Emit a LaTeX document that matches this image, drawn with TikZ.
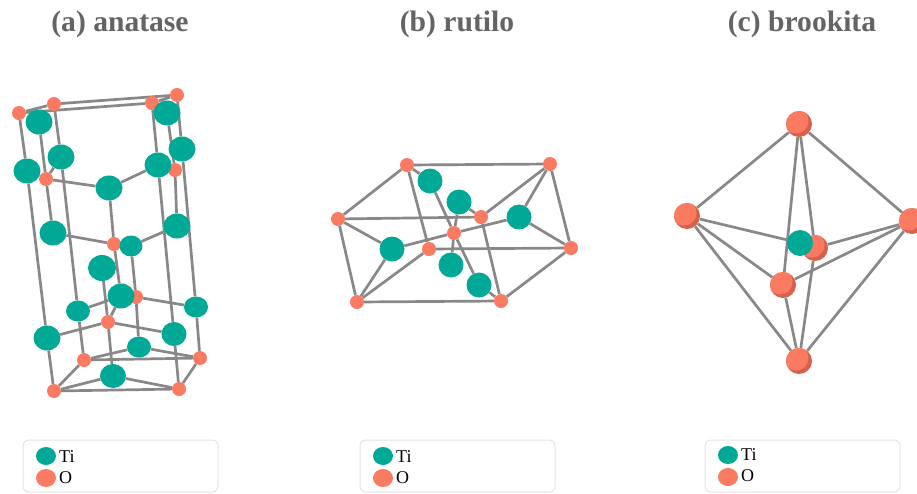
\documentclass[tikz,border=0pt]{standalone}
\usepackage{fontspec}
\setmainfont{Liberation Serif}
\usetikzlibrary{shapes.geometric,backgrounds}
\definecolor{titanio}{RGB}{0,168,150}
\definecolor{oxigeno}{RGB}{250,122,98}
\definecolor{oxigenodark}{RGB}{214,98,78}
\definecolor{enlace}{RGB}{136,136,136}
\definecolor{titulo}{RGB}{100,100,100}
\definecolor{marco}{RGB}{228,228,228}
\tikzset{
    ti/.style={ellipse,fill=titanio,inner sep=0pt,minimum width=27pt,minimum height=25pt},
    tir/.style={circle,fill=titanio,inner sep=0pt,minimum size=25pt},
    ox/.style={circle,fill=oxigeno,inner sep=0pt,minimum size=14pt},
    oxbig/.style={circle,fill=oxigenodark,inner sep=0pt,minimum size=26pt,
        path picture={\fill[oxigeno] ([shift={(-3pt,3pt)}]path picture bounding box.center) circle (12.5pt);}},
    bond/.style={draw=enlace,line width=2.7pt},
    titulo/.style={font=\bfseries\fontsize{29.6}{30}\selectfont,text=titulo},
    leyenda/.style={draw=marco,line width=1pt,rounded corners=6pt,minimum width=195pt,minimum height=52pt,inner sep=0pt},
    legti/.style={ellipse,fill=titanio,inner sep=0pt,minimum width=20pt,minimum height=18pt},
    legox/.style={ellipse,fill=oxigeno,inner sep=0pt,minimum width=20pt,minimum height=18pt},
    legtxt/.style={font=\fontsize{18}{18}\selectfont,anchor=west,inner sep=0pt}
}
\begin{document}
\begin{tikzpicture}[x=1pt,y=-1pt]
        \useasboundingbox (0,0) rectangle (917,493);
        \node[titulo] (ta) at (120,24) {(a) anatase};
        \node[titulo] (tb) at (457,24) {(b) rutilo};
        \node[titulo] (tc) at (802,24) {(c) brookita};

        \node[ox] (a1) at (19,113) {};
        \node[ox] (a2) at (54,104) {};
        \node[ox] (a3) at (152,103) {};
        \node[ox] (a4) at (177,95) {};
        \node[ox] (a5) at (46,179) {};
        \node[ox] (a6) at (175,170) {};
        \node[ox] (a7) at (114,244) {};
        \node[ox] (a8) at (136,297) {};
        \node[ox] (a9) at (108,322) {};
        \node[ox] (a10) at (84,360) {};
        \node[ox] (a11) at (200,358) {};
        \node[ox] (a12) at (54,391) {};
        \node[ox] (a13) at (179,389) {};
        \node[ti] (at1) at (39,122) {};
        \node[ti] (at2) at (167,113) {};
        \node[ti] (at3) at (182,149) {};
        \node[ti] (at4) at (61,157) {};
        \node[ti] (at5) at (27,171) {};
        \node[ti] (at6) at (158,165) {};
        \node[ti] (at7) at (109,188) {};
        \node[ti] (at8) at (53,233) {};
        \node[ti] (at9) at (177,226) {};
        \node[ti,minimum width=23pt,minimum height=21pt] (at10) at (131,246) {};
        \node[ti,minimum width=28pt,minimum height=26pt] (at11) at (102,268) {};
        \node[ti] (at12) at (121,296) {};
        \node[ti,minimum width=24pt,minimum height=21pt] (at13) at (78,311) {};
        \node[ti,minimum width=24pt,minimum height=21pt] (at14) at (196,307) {};
        \node[ti] (at15) at (47,338) {};
        \node[ti,minimum width=25pt,minimum height=24pt] (at16) at (174,334) {};
        \node[ti,minimum width=24pt,minimum height=21pt] (at17) at (139,347) {};
        \node[ti,minimum width=26pt,minimum height=24pt] (at18) at (113,376) {};

        \begin{scope}[on background layer]
        \draw[bond] (a1) -- (a2);
        \draw[bond] (a2) -- (a4);
        \draw[bond] (a1) -- (a3);
        \draw[bond] (a3) -- (a4);
        \draw[bond] (a1) -- (at5);
        \draw[bond] (at5) -- (at15);
        \draw[bond] (at15) -- (a12);
        \draw[bond] (a2) -- (at4);
        \draw[bond] (at4) -- (at13);
        \draw[bond] (at13) -- (a10);
        \draw[bond] (at1) -- (a5);
        \draw[bond] (a5) -- (at8);
        \draw[bond] (a5) -- (at4);
        \draw[bond] (a5) -- (at7);
        \draw[bond] (at7) -- (at6);
        \draw[bond] (at7) -- (a7);
        \draw[bond] (at8) -- (a7);
        \draw[bond] (a7) -- (at12);
        \draw[bond] (a7) -- (at10);
        \draw[bond] (at10) -- (at9);
        \draw[bond] (at10) -- (a8);
        \draw[bond] (a8) -- (at17);
        \draw[bond] (a8) -- (at14);
        \draw[bond] (at11) -- (a9);
        \draw[bond] (a9) -- (at18);
        \draw[bond] (a3) -- (at6);
        \draw[bond] (at6) -- (at16);
        \draw[bond] (at16) -- (a13);
        \draw[bond] (a4) -- (at3);
        \draw[bond] (at3) -- (at14);
        \draw[bond] (at14) -- (a11);
        \draw[bond] (at2) -- (a6);
        \draw[bond] (a6) -- (at9);
        \draw[bond] (at12) -- (at13);
        \draw[bond] (at12) -- (a9);
        \draw[bond] (a9) -- (at15);
        \draw[bond] (a9) -- (at16);
        \draw[bond] (a12) -- (a10);
        \draw[bond] (a12) -- (at18);
        \draw[bond] (at18) -- (a13);
        \draw[bond] (a12) -- (a13);
        \draw[bond] (a10) -- (a11);
        \draw[bond] (a10) -- (at17);
        \draw[bond] (at17) -- (a11);
        \draw[bond] (a13) -- (a11);
        \end{scope}

        \node[ox] (r1) at (407,165) {};
        \node[ox] (r2) at (550,164) {};
        \node[ox] (r3) at (338,219) {};
        \node[ox] (r4) at (481,217) {};
        \node[ox] (r5) at (454,233) {};
        \node[ox] (r6) at (429,249) {};
        \node[ox] (r7) at (571,248) {};
        \node[ox] (r8) at (357,302) {};
        \node[ox] (r9) at (501,301) {};
        \node[tir] (rt1) at (430,181) {};
        \node[tir] (rt2) at (459,202) {};
        \node[tir] (rt3) at (519,217) {};
        \node[tir] (rt4) at (392,249) {};
        \node[tir] (rt5) at (451,265) {};
        \node[tir] (rt6) at (479,285) {};

        \begin{scope}[on background layer]
        \draw[bond] (r1) -- (r2);
        \draw[bond] (r1) -- (r3);
        \draw[bond] (r1) -- (r6);
        \draw[bond] (r1) -- (rt1);
        \draw[bond] (rt1) -- (r5);
        \draw[bond] (r5) -- (rt6);
        \draw[bond] (rt6) -- (r9);
        \draw[bond] (r2) -- (r4);
        \draw[bond] (r2) -- (rt3);
        \draw[bond] (r2) -- (r7);
        \draw[bond] (r3) -- (r4);
        \draw[bond] (r3) -- (rt4);
        \draw[bond] (r3) -- (r8);
        \draw[bond] (rt4) -- (r5);
        \draw[bond] (r5) -- (rt3);
        \draw[bond] (rt2) -- (r4);
        \draw[bond] (rt2) -- (r5);
        \draw[bond] (r5) -- (rt5);
        \draw[bond] (r4) -- (r9);
        \draw[bond] (r6) -- (r7);
        \draw[bond] (r6) -- (r8);
        \draw[bond] (rt4) -- (r8);
        \draw[bond] (rt3) -- (r7);
        \draw[bond] (r7) -- (r9);
        \draw[bond] (r8) -- (r9);
        \end{scope}

        \node[oxbig] (b1) at (799,124) {};
        \node[oxbig] (b2) at (687,216) {};
        \node[oxbig] (b3) at (912,221) {};
        \node[oxbig] (b4) at (815,248) {};
        \node[oxbig] (b5) at (783,285) {};
        \node[oxbig] (b6) at (799,361) {};
        \node[tir,minimum size=26pt] (bt) at (800,243) {};

        \begin{scope}[on background layer]
        \draw[bond] (b1) -- (b2);
        \draw[bond] (b1) -- (b3);
        \draw[bond] (b1) -- (b5);
        \draw[bond] (b1) -- (b4);
        \draw[bond] (b2) -- (bt);
        \draw[bond] (b2) -- (b5);
        \draw[bond] (b2) -- (b6);
        \draw[bond] (b3) -- (b4);
        \draw[bond] (b3) -- (b5);
        \draw[bond] (b3) -- (b6);
        \draw[bond] (b4) -- (b6);
        \draw[bond] (b5) -- (b6);
        \end{scope}

        \node[leyenda] (la) at (120.5,466) {};
        \node[legti] (lati) at (46,456) {};
        \node[legox] (laox) at (46,478) {};
        \node[legtxt] (latt) at (59,457) {Ti};
        \node[legtxt] (laot) at (59,478) {O};

        \node[leyenda] (lb) at (457.5,466) {};
        \node[legti] (lbti) at (383,456) {};
        \node[legox] (lbox) at (383,478) {};
        \node[legtxt] (lbtt) at (396,457) {Ti};
        \node[legtxt] (lbot) at (396,478) {O};

        \node[leyenda] (lc) at (802.5,466) {};
        \node[legti] (lcti) at (728,455) {};
        \node[legox] (lcox) at (728,477) {};
        \node[legtxt] (lctt) at (741,455) {Ti};
        \node[legtxt] (lcot) at (741,476) {O};
    \end{tikzpicture}
\end{document}
